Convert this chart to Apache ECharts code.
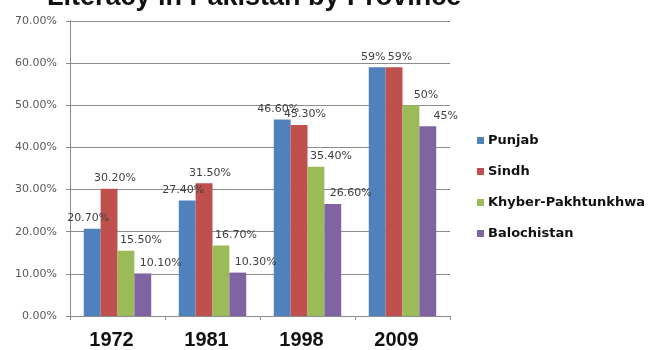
<!DOCTYPE html>
<html>
<head>
<meta charset="utf-8">
<script src="https://cdn.jsdelivr.net/npm/echarts@6/dist/echarts.min.js"></script>
<style>
  html, body { margin: 0; padding: 0; background: #fff; }
  #chart { width: 660px; height: 350px; }
</style>
</head>
<body>
<div id="chart"></div>
<script>
// Census years and literacy rate (%) per province
const years = ['1972', '1981', '1998', '2009'];
const punjab = [20.7, 27.4, 46.6, 59];
const sindh = [30.2, 31.5, 45.3, 59];
const khyber = [15.5, 16.7, 35.4, 50];
const balochistan = [10.1, 10.3, 26.6, 45];
const yTicks = [0, 10, 20, 30, 40, 50, 60, 70];

const provinces = [
  { name: 'Punjab', data: punjab, color: '#4F81BD', dx: -4 },
  { name: 'Sindh', data: sindh, color: '#C0504D', dx: 6 },
  { name: 'Khyber-Pakhtunkhwa', data: khyber, color: '#9BBB59', dx: 15 },
  { name: 'Balochistan', data: balochistan, color: '#8064A2', dx: 18 }
];

const fmt = v => (Number.isInteger(v) ? v + '%' : v.toFixed(2) + '%');

const chart = echarts.init(document.getElementById('chart'));
chart.setOption({
  animation: false,
  backgroundColor: '#ffffff',
  title: {
    text: 'Literacy in Pakistan by Province',
    left: 42,
    top: -21,
    textStyle: { fontFamily: 'Liberation Sans', fontWeight: 'bold', fontSize: 27, color: '#111' }
  },
  legend: {
    orient: 'vertical',
    left: 472,
    top: 129,
    itemWidth: 7,
    itemHeight: 7,
    itemGap: 18,
    icon: 'rect',
    textStyle: { fontFamily: 'DejaVu Sans', fontWeight: 'bold', fontSize: 13, color: '#111', padding: [0, 0, 0, -1] }
  },
  grid: { left: 70, right: 210, top: 21, bottom: 34 },
  xAxis: {
    type: 'category',
    data: years,
    axisLine: { lineStyle: { color: '#8c8c8c', width: 1 } },
    axisTick: { show: true, length: 4, lineStyle: { color: '#8c8c8c' } },
    axisLabel: {
      fontFamily: 'Liberation Sans', fontWeight: 'bold', fontSize: 20, color: '#111',
      margin: 14, padding: [0, 12, 0, 0]
    }
  },
  yAxis: {
    type: 'value',
    min: 0,
    max: 70,
    interval: 10,
    axisLine: { show: true, lineStyle: { color: '#8c8c8c', width: 1 } },
    axisTick: { show: true, length: 4, lineStyle: { color: '#8c8c8c' } },
    splitLine: { lineStyle: { color: '#8c8c8c', width: 1 } },
    axisLabel: {
      fontFamily: 'DejaVu Sans', fontSize: 11, color: '#595959', margin: 13,
      formatter: v => (yTicks.includes(v) ? v.toFixed(2) + '%' : '')
    }
  },
  series: provinces.map(p => ({
    name: p.name,
    type: 'bar',
    data: p.data,
    barGap: '0%',
    barCategoryGap: '29%',
    itemStyle: { color: p.color },
    label: {
      show: true,
      position: 'top',
      distance: 5,
      offset: [p.dx, 0],
      fontFamily: 'DejaVu Sans',
      fontSize: 11,
      color: '#404040',
      formatter: d => fmt(d.value)
    }
  }))
});
</script>
</body>
</html>
